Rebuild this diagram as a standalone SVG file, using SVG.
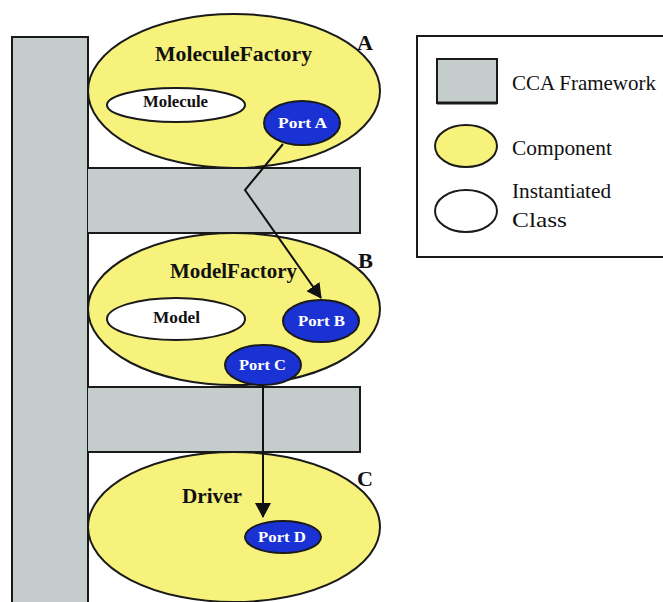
<svg xmlns="http://www.w3.org/2000/svg" width="663" height="602" viewBox="0 0 663 602">
<style>
.fw{fill:#c4cccc;stroke:#1a1a1a;stroke-width:2}
.comp{fill:#f6f27c;stroke:#1a1a1a;stroke-width:2}
.cls{fill:#ffffff;stroke:#1a1a1a;stroke-width:2}
.port{fill:#1a32d4;stroke:#1a1a1a;stroke-width:2}
.t{font-family:"Liberation Serif","Times New Roman",serif;font-weight:bold;fill:#111}
.pt{font-family:"Liberation Serif","Times New Roman",serif;font-weight:bold;fill:#ffffff;font-size:15px}
.lg{font-family:"Liberation Serif","Times New Roman",serif;fill:#111;font-size:22px}
.conn{fill:none;stroke:#111;stroke-width:2}
</style>
<defs>
<marker id="arr" markerWidth="15" markerHeight="16" refX="14" refY="8" orient="auto" markerUnits="userSpaceOnUse">
<path d="M0,0 L15,8 L0,16 Z" fill="#111"/>
</marker>
</defs>
<rect width="663" height="602" fill="#ffffff"/>
<g id="framework">
<rect class="fw" x="12" y="37" width="76" height="580"/>
<path class="fw" d="M88,168 H360 V233 H88"/>
<path class="fw" d="M88,387 H360 V452 H88"/>
</g>
<g id="componentA">
<ellipse class="comp" cx="234" cy="91" rx="146" ry="77"/>
<text class="t" x="155" y="61" font-size="22" textLength="157" lengthAdjust="spacingAndGlyphs">MoleculeFactory</text>
<text class="t" x="357" y="50" font-size="20" textLength="16" lengthAdjust="spacingAndGlyphs">A</text>
</g>
<g id="molecule">
<ellipse class="cls" cx="176" cy="105" rx="69" ry="17"/>
<text class="t" x="143" y="107" font-size="16" textLength="65" lengthAdjust="spacingAndGlyphs">Molecule</text>
</g>
<g id="portA">
<ellipse class="port" cx="302" cy="123" rx="38" ry="22"/>
<text class="pt" x="278" y="128" textLength="49" lengthAdjust="spacingAndGlyphs">Port A</text>
</g>
<g id="componentB">
<ellipse class="comp" cx="234" cy="309" rx="146" ry="76"/>
<text class="t" x="170" y="278" font-size="22" textLength="127" lengthAdjust="spacingAndGlyphs">ModelFactory</text>
<text class="t" x="358" y="268" font-size="20" textLength="15" lengthAdjust="spacingAndGlyphs">B</text>
</g>
<g id="model">
<ellipse class="cls" cx="176" cy="319" rx="69" ry="21"/>
<text class="t" x="153" y="323" font-size="16" textLength="47" lengthAdjust="spacingAndGlyphs">Model</text>
</g>
<g id="portB">
<ellipse class="port" cx="321" cy="321" rx="38" ry="21"/>
<text class="pt" x="298" y="326" textLength="47" lengthAdjust="spacingAndGlyphs">Port B</text>
</g>
<g id="portC">
<ellipse class="port" cx="263" cy="365" rx="38" ry="20"/>
<text class="pt" x="239" y="370" textLength="47" lengthAdjust="spacingAndGlyphs">Port C</text>
</g>
<g id="componentC">
<ellipse class="comp" cx="234" cy="527" rx="146" ry="75"/>
<text class="t" x="182" y="503" font-size="22" textLength="60" lengthAdjust="spacingAndGlyphs">Driver</text>
<text class="t" x="357" y="486" font-size="20" textLength="16" lengthAdjust="spacingAndGlyphs">C</text>
</g>
<g id="portD">
<ellipse class="port" cx="283" cy="537" rx="38" ry="16"/>
<text class="pt" x="258" y="542" textLength="48" lengthAdjust="spacingAndGlyphs">Port D</text>
</g>
<g id="connectors">
<polyline class="conn" points="283,144 245,190 321,298" marker-end="url(#arr)"/>
<line class="conn" x1="263" y1="385" x2="263" y2="517" marker-end="url(#arr)"/>
</g>
<g id="legend">
<rect x="417" y="36" width="260" height="221" fill="#ffffff" stroke="#1a1a1a" stroke-width="2"/>
<rect x="437" y="59" width="60" height="44" fill="#c4cccc" stroke="#1a1a1a" stroke-width="2"/>
<line x1="437" y1="103" x2="497" y2="103" stroke="#1a1a1a" stroke-width="3"/>
<text class="lg" x="512" y="90" textLength="144" lengthAdjust="spacingAndGlyphs">CCA Framework</text>
<ellipse class="comp" cx="466" cy="146" rx="31" ry="21"/>
<text class="lg" x="512" y="155" textLength="100" lengthAdjust="spacingAndGlyphs">Component</text>
<ellipse class="cls" cx="466" cy="211" rx="31" ry="21"/>
<text class="lg" x="512" y="198" textLength="99" lengthAdjust="spacingAndGlyphs">Instantiated</text>
<text class="lg" x="512" y="227" textLength="55" lengthAdjust="spacingAndGlyphs">Class</text>
</g>
</svg>
